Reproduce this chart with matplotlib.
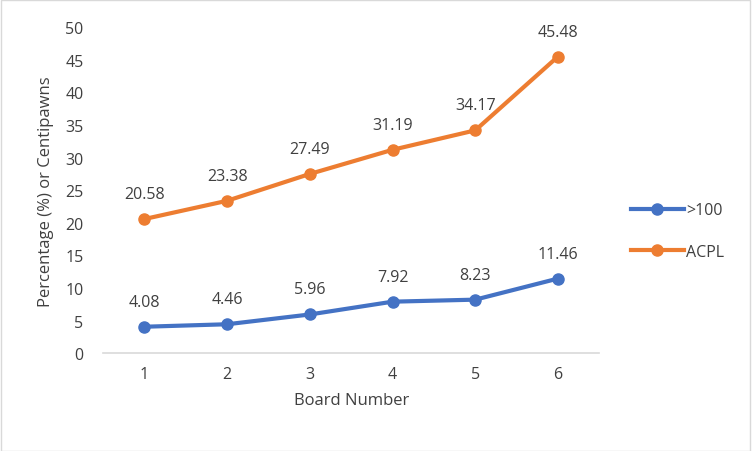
import matplotlib.pyplot as plt
from matplotlib.patches import Rectangle

boards = [1, 2, 3, 4, 5, 6]
over_100 = [4.08, 4.46, 5.96, 7.92, 8.23, 11.46]
acpl = [20.58, 23.38, 27.49, 31.19, 34.17, 45.48]

plt.rcParams['font.family'] = ['Open Sans', 'DejaVu Sans']
text_col = '#404040'

fig = plt.figure(figsize=(7.52, 4.52), dpi=100)
ax = fig.add_axes([0.137, 0.216, 0.66, 0.722])

blue = '#4472C4'
orange = '#ED7D31'
ax.plot(boards, over_100, color=blue, lw=3, marker='o', ms=8, label='>100')
ax.plot(boards, acpl, color=orange, lw=3, marker='o', ms=8, label='ACPL')

for x, y in zip(boards, over_100):
    ax.annotate(f'{y:.2f}', (x, y), xytext=(0, 18), textcoords='offset points',
                ha='center', va='center', fontsize=11.5, color=text_col)
for x, y in zip(boards, acpl):
    ax.annotate(f'{y:.2f}', (x, y), xytext=(0, 18), textcoords='offset points',
                ha='center', va='center', fontsize=11.5, color=text_col)

ax.set_xlim(0.5, 6.5)
ax.set_ylim(0, 50)
ax.set_yticks(range(0, 51, 5))
ax.set_xticks(boards)
for s in ['top', 'right', 'left']:
    ax.spines[s].set_visible(False)
ax.spines['bottom'].set_color('#D9D9D9')
ax.spines['bottom'].set_linewidth(1.2)
ax.tick_params(axis='both', length=0, labelsize=11.5, labelcolor=text_col)
ax.tick_params(axis='x', pad=9)
ax.tick_params(axis='y', pad=14)
ax.set_xlabel('Board Number', fontsize=12, color=text_col, labelpad=7)
ax.set_ylabel('Percentage (%) or Centipawns', fontsize=12, color=text_col, labelpad=8)

ax.legend(loc='center left', bbox_to_anchor=(1.035, 0.375), frameon=False,
          fontsize=11.5, labelcolor=text_col, handlelength=3.3, handletextpad=0.15,
          labelspacing=1.6)

fig.patches.append(Rectangle((0.001, 0.001), 0.997, 0.997, transform=fig.transFigure,
                             fill=False, edgecolor='#D9D9D9', lw=1))

fig.savefig('out.png', dpi=100)
